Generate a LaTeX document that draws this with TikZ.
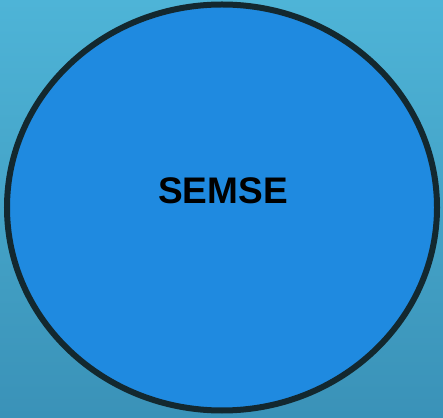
\documentclass[tikz,border=0pt]{standalone}
\usepackage{fontspec}
\setmainfont{Liberation Sans}
\usetikzlibrary{shapes.geometric}
\definecolor{bgtop}{HTML}{4EB4D7}
\definecolor{bgbot}{HTML}{3A92B8}
\definecolor{circfill}{HTML}{1F8AE0}
\definecolor{circline}{HTML}{13282F}
\tikzset{
  bubble/.style={ellipse, draw=circline, line width=6pt, fill=circfill, minimum width=430pt, minimum height=406pt, inner sep=0pt},
  semlabel/.style={font=\bfseries\fontsize{37}{40}\selectfont, text=black}
}
\begin{document}
\begin{tikzpicture}[x=1pt,y=1pt]
\shade[top color=bgtop, bottom color=bgbot] (0,0) rectangle (443,417);
\useasboundingbox (0,0) rectangle (443,417);
\node[bubble] (c) at (222,209.5) {};
\node[semlabel] (t) at (223,226) {SEMSE};
\end{tikzpicture}
\end{document}
